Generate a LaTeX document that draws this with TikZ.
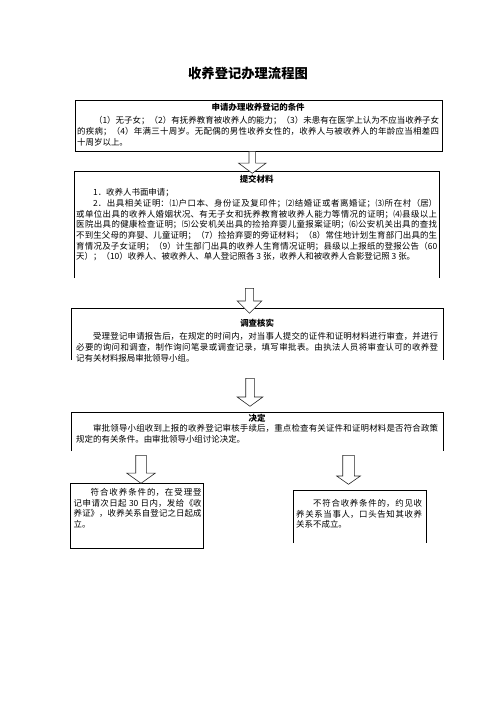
\documentclass[tikz,border=0pt]{standalone}
\usepackage{fontspec}
\setmainfont{Noto Sans CJK SC}
\XeTeXlinebreaklocale "zh"
\XeTeXlinebreakskip=0pt plus 1pt
\usetikzlibrary{shapes.arrows}

\begin{document}
\begin{tikzpicture}[x=1pt,y=-1pt]
		\tikzstyle{Para} = [anchor=north west, inner sep=0pt, align=justify, font=\fontsize{8.45}{10.7}\selectfont]
		\tikzstyle{Frame} = [draw=black, line width=0.9pt]
		\tikzstyle{BlockArrow} = [single arrow, draw=black!85, line width=0.6pt, fill=white, rotate=-90, anchor=tail, inner xsep=0pt, single arrow head indent=0pt]
		
		\useasboundingbox (0,0) rectangle (496,702);
		
		\node (title) at (248,73) {\fontsize{13.3}{16}\selectfont\bfseries 收养登记办理流程图};
		
		% 申请条件
		\draw [Frame] (75.5,100) rectangle (442.5,151);
		\node (cond) [Para, text width=362pt] at (77,103) {{\centering\bfseries 申请办理收养登记的条件\par}\vspace{2.5pt}\hspace*{2em}（1）无子女；（2）有抚养教育被收养人的能力；（3）未患有在医学上认为不应当收养子女\linebreak 的疾病；（4）年满三十周岁。无配偶的男性收养女性的，收养人与被收养人的年龄应当相差四\linebreak 十周岁以上。};
		
		% 提交材料
		\draw [Frame] (74,278) -- (74,171) -- (439,171) -- (439,278);
		\node (docs) [Para, text width=361pt] at (76,175) {{\centering\bfseries 提交材料\par}\vspace{2.5pt}\hspace*{2em}1．收养人书面申请；\par\hspace*{2em}2．出具相关证明：⑴户口本、身份证及复印件；⑵结婚证或者离婚证；⑶所在村（居）\linebreak 或单位出具的收养人婚姻状况、有无子女和抚养教育被收养人能力等情况的证明；⑷县级以上\linebreak 医院出具的健康检查证明；⑸公安机关出具的捡拾弃婴儿童报案证明；⑹公安机关出具的查找\linebreak 不到生父母的弃婴、儿童证明；（7）捡拾弃婴的旁证材料；（8）常住地计划生育部门出具的生\linebreak 育情况及子女证明；（9）计生部门出具的收养人生育情况证明；县级以上报纸的登报公告（60\linebreak 天）；（10）收养人、被收养人、单人登记照各 3 张，收养人和被收养人合影登记照 3 张。};
		
		% 调查核实
		\draw [Frame] (71,360) -- (71,308.5) -- (443,308.5) -- (443,360);
		\node (check) [Para, text width=362pt] at (76,319) {{\centering\bfseries 调查核实\par}\vspace{2.5pt}\hspace*{2em}受理登记申请报告后，在规定的时间内，对当事人提交的证件和证明材料进行审查，并进行\linebreak 必要的询问和调查，制作询问笔录或调查记录，填写审批表。由执法人员将审查认可的收养登\linebreak 记有关材料报局审批领导小组。};
		
		% 决定
		\draw [Frame] (71,451) -- (71,412) -- (443,412) -- (443,451);
		\node (decide) [Para, text width=362pt] at (76,413.5) {{\centering\bfseries 决定\par}\hspace*{2em}审批领导小组收到上报的收养登记审核手续后，重点检查有关证件和证明材料是否符合政策\linebreak 规定的有关条件。由审批领导小组讨论决定。};
		
		% 两种结果
		\draw [Frame] (70.7,483) rectangle (203,548);
		\node (yes) [Para, text width=128pt] at (73.5,488) {\hspace*{2em}符合收养条件的，在受理登\linebreak 记申请次日起 30 日内，发给《收\linebreak 养证》，收养关系自登记之日起成\linebreak 立。};
		\draw [Frame] (293,543) -- (293,490) -- (426,490) -- (426,543);
		\node (no) [Para, text width=126pt] at (296,499) {\hspace*{2em}不符合收养条件的，约见收\linebreak 养关系当事人，口头告知其收养\linebreak 关系不成立。};
		
		% 空心箭头
		\node (a1) [BlockArrow, inner ysep=3pt, single arrow head extend=10.5pt, single arrow tip angle=107, minimum height=22pt] at (252.3,151) {};
		\node (a2) [BlockArrow, inner ysep=3.8pt, single arrow head extend=8.2pt, single arrow tip angle=90, minimum height=25pt] at (249.5,288) {};
		\node (a3) [BlockArrow, inner ysep=4pt, single arrow head extend=8.5pt, single arrow tip angle=108, minimum height=28pt] at (250,378) {};
		\node (a4) [BlockArrow, inner ysep=5pt, single arrow head extend=9pt, single arrow tip angle=109, minimum height=28pt] at (141,455) {};
		\node (a5) [BlockArrow, inner ysep=5.5pt, single arrow head extend=6pt, single arrow tip angle=110, minimum height=29pt] at (348.5,455) {};
\end{tikzpicture}
\end{document}
